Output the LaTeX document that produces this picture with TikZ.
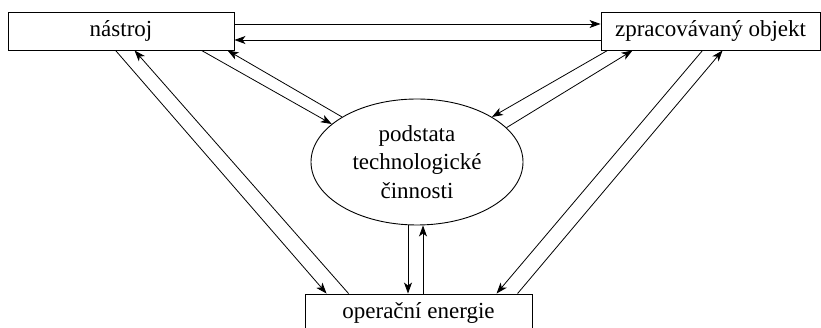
\documentclass[tikz,border=0pt]{standalone}
\usepackage{fontspec}
\setmainfont{Liberation Serif}
\usetikzlibrary{arrows.meta,shapes.geometric}
\begin{document}
\begin{tikzpicture}[x=1pt,y=-1pt,
  box/.style={draw,line width=0.9pt,minimum height=38pt,inner sep=0pt,font=\fontsize{23}{28}\selectfont},
  conn/.style={line width=0.8pt,-{Stealth[length=11pt,width=8pt,inset=3pt]}},
  ell/.style={draw,ellipse,line width=0.9pt,minimum width=212pt,minimum height=126pt,inner sep=0pt,align=center,font=\fontsize{23}{28.5}\selectfont}]
\useasboundingbox (0,0) rectangle (821,328);
\node[box,minimum width=226pt] (nas) at (121,31) {nástroj};
\node[box,minimum width=219pt] (zp) at (710.5,31) {zpracovávaný objekt};
\node[box,minimum width=227pt] (op) at (418.5,313) {operační energie};
\node[ell] (ell) at (417,162) {podstata\\technologické\\činnosti};
% top
\draw[conn] ([yshift=7pt]nas.east) -- ([yshift=7pt]zp.west);
\draw[conn] ([yshift=-9pt]zp.west) -- ([yshift=-9pt]nas.east);
% nastroj - ellipse
\draw[conn] ([xshift=194pt]nas.south west) -- (ell.156);
\draw[conn] (ell.149) -- ([xshift=220pt]nas.south west);
% zpracovavany - ellipse
\draw[conn] ([xshift=7pt]zp.south west) -- (ell.31);
\draw[conn] (ell.21) -- ([xshift=32pt]zp.south west);
% nastroj - operacni
\draw[conn] ([xshift=108pt]nas.south west) -- ([xshift=22pt]op.north west);
\draw[conn] ([xshift=44pt]op.north west) -- ([xshift=127pt]nas.south west);
% ellipse - operacni
\draw[conn] ([xshift=-9pt]ell.south) -- ([xshift=-10.5pt]op.north);
\draw[conn] ([xshift=4.5pt]op.north) -- ([xshift=6pt]ell.south);
% zpracovavany - operacni
\draw[conn] ([xshift=102pt]zp.south west) -- ([xshift=192pt]op.north west);
\draw[conn] ([xshift=213pt]op.north west) -- ([xshift=122pt]zp.south west);
\end{tikzpicture}
\end{document}
